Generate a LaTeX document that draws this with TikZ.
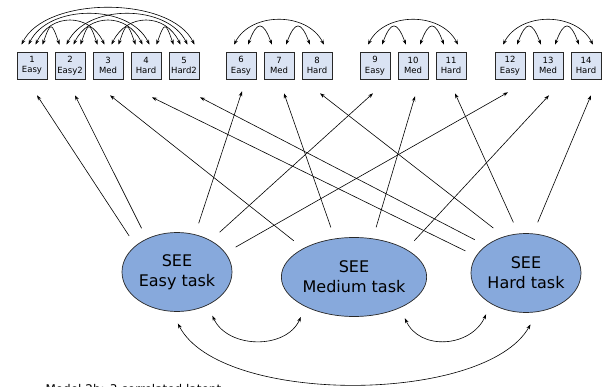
\documentclass[tikz,border=0pt]{standalone}
\usepackage{fontspec}
\setmainfont{DejaVu Sans}
\usetikzlibrary{shapes.geometric,arrows.meta}
\definecolor{latentfill}{RGB}{135,169,220}
\definecolor{itemfill}{RGB}{218,227,243}
\definecolor{edgegray}{RGB}{40,40,40}

% double-headed covariance arc between the tops of two indicator boxes
% #1 node, #2 x offset, #3 node, #4 x offset, #5 control dx, #6 control height
\newcommand\covarc[6]{\draw[cov] ([shift={(#2,-7)}]#1.north) .. controls +(#5,-#6) and +(-#5,-#6) .. ([shift={(#4,-7)}]#3.north);}

\begin{document}
\begin{tikzpicture}[x=1pt,y=-1pt,
  item/.style={draw=edgegray, fill=itemfill, line width=0.6pt, minimum width=30pt,
    minimum height=27pt, inner sep=0pt, align=center,
    font=\fontsize{8.5}{10.5}\selectfont},
  latent/.style={ellipse, draw=edgegray, fill=latentfill, line width=0.7pt,
    minimum width=110pt, minimum height=79pt, inner sep=0pt, outer sep=12pt,
    align=center, font=\fontsize{16}{20}\selectfont},
  load/.style={-{Stealth[length=5pt,width=3.5pt]}, line width=0.6pt},
  cov/.style={{Stealth[length=5pt,width=3.5pt]}-{Stealth[length=5pt,width=3.5pt]}, line width=0.6pt}]
\useasboundingbox (0,0) rectangle (605,387);

% observed indicators
\node[item] (b1)  at (32,65.5)  {1\\Easy};
\node[item] (b2)  at (70,65.5)  {2\\Easy2};
\node[item] (b3)  at (108,65.5) {3\\Med};
\node[item] (b4)  at (146,65.5) {4\\Hard};
\node[item] (b5)  at (184,65.5) {5\\Hard2};
\node[item] (b6)  at (241,65.5) {6\\Easy};
\node[item] (b7)  at (279,65.5) {7\\Med};
\node[item] (b8)  at (317,65.5) {8\\Hard};
\node[item] (b9)  at (375,65.5) {9\\Easy};
\node[item] (b10) at (413,65.5) {10\\Med};
\node[item] (b11) at (451,65.5) {11\\Hard};
\node[item] (b12) at (510,65.5) {12\\Easy};
\node[item] (b13) at (548,65.5) {13\\Med};
\node[item] (b14) at (586,65.5) {14\\Hard};

% latent factors
\node[latent] (easy)   at (177,272) {SEE\\Easy task};
\node[latent] (medium) at (354,277) {SEE\\Medium task};
\node[latent] (hard)   at (526,273) {SEE\\Hard task};

% factor loadings
\draw[load] (easy.143)   -- ([shift={(5,16)}]b1.south);
\draw[load] (easy.129)   -- ([shift={(5,16)}]b2.south);
\draw[load] (medium.149) -- ([shift={(2,16)}]b3.south);
\draw[load] (hard.160)   -- ([shift={(6,18)}]b4.south);
\draw[load] (hard.147)   -- ([shift={(16,18)}]b5.south);
\draw[load] (easy.66)    -- ([shift={(1,12)}]b6.south);
\draw[load] (medium.115) -- ([shift={(5,14)}]b7.south);
\draw[load] (hard.126)   -- ([shift={(3,14)}]b8.south);
\draw[load] (easy.43)    -- ([shift={(-2,14)}]b9.south);
\draw[load] (medium.66)  -- ([shift={(2,17)}]b10.south);
\draw[load] (hard.104)   -- ([shift={(4,14)}]b11.south);
\draw[load] (easy.23)    -- ([shift={(-2,13)}]b12.south);
\draw[load] (medium.31)  -- ([shift={(1,16)}]b13.south);
\draw[load] (hard.77)    -- ([shift={(5,16)}]b14.south);

% residual covariances, first block (all pairs)
\covarc{b1}{10.5}{b2}{-10.5}{8}{23}
\covarc{b2}{10.5}{b3}{-10.5}{8}{23}
\covarc{b3}{10.5}{b4}{-10.5}{8}{23}
\covarc{b4}{10.5}{b5}{-10.5}{8}{23}
\covarc{b1}{3.5}{b3}{-3.5}{15}{32}
\covarc{b2}{3.5}{b4}{-3.5}{15}{32}
\covarc{b3}{3.5}{b5}{-3.5}{15}{32}
\covarc{b1}{-3.5}{b4}{3.5}{20}{41}
\covarc{b2}{-3.5}{b5}{3.5}{20}{41}
\covarc{b1}{-10.5}{b5}{10.5}{24}{49}

% residual covariances, three-item blocks
\covarc{b6}{7}{b7}{-7}{9}{24}
\covarc{b7}{7}{b8}{-7}{9}{24}
\covarc{b6}{-7}{b8}{7}{17}{33}
\covarc{b9}{7}{b10}{-7}{9}{24}
\covarc{b10}{7}{b11}{-7}{9}{24}
\covarc{b9}{-7}{b11}{7}{17}{33}
\covarc{b12}{7}{b13}{-7}{9}{24}
\covarc{b13}{7}{b14}{-7}{9}{24}
\covarc{b12}{-7}{b14}{7}{17}{33}

% factor correlations
\draw[cov] (easy.-51) .. controls +(15,33) and +(-15,33) .. (medium.-143);
\draw[cov] (medium.-39) .. controls +(15,33) and +(-15,33) .. (hard.-134);
\draw[cov] (easy.-89) .. controls +(42,82) and +(-45,80) .. (hard.-85);

\node[anchor=base west, font=\fontsize{12}{14}\selectfont] (caption) at (42,393) {Model 2b: 3 correlated latent};
\end{tikzpicture}
\end{document}
